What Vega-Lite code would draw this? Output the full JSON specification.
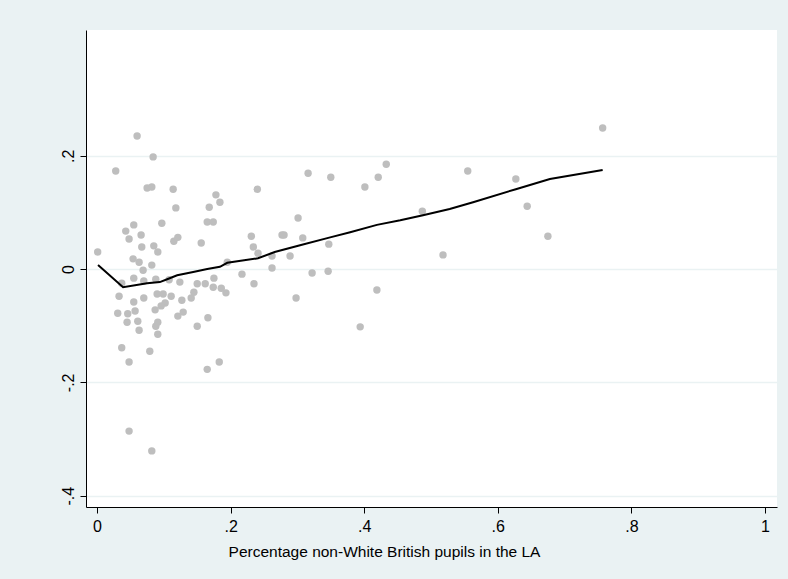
{
  "$schema": "https://vega.github.io/schema/vega-lite/v6.json",
  "autosize": "none",
  "width": 691,
  "height": 477,
  "padding": {"left": 86, "top": 30, "right": 11, "bottom": 72},
  "background": "#eaf2f3",
  "view": {"fill": "white", "stroke": null},
  "config": {
    "font": "Liberation Sans",
    "axis": {"labelFont": "Liberation Sans", "titleFont": "Liberation Sans", "labelColor": "black", "titleColor": "black", "domainColor": "black", "tickColor": "black"}
  },
  "datasets": {
    "scatter": [
      {"x": 0.001, "y": 0.030}, {"x": 0.028, "y": 0.173}, {"x": 0.060, "y": 0.235}, {"x": 0.084, "y": 0.198},
      {"x": 0.075, "y": 0.143}, {"x": 0.082, "y": 0.145}, {"x": 0.114, "y": 0.141}, {"x": 0.118, "y": 0.108},
      {"x": 0.097, "y": 0.081}, {"x": 0.055, "y": 0.078}, {"x": 0.043, "y": 0.067}, {"x": 0.066, "y": 0.060},
      {"x": 0.168, "y": 0.109}, {"x": 0.178, "y": 0.131}, {"x": 0.184, "y": 0.118}, {"x": 0.165, "y": 0.083},
      {"x": 0.174, "y": 0.083}, {"x": 0.240, "y": 0.141}, {"x": 0.231, "y": 0.058}, {"x": 0.048, "y": 0.053},
      {"x": 0.067, "y": 0.039}, {"x": 0.085, "y": 0.041}, {"x": 0.091, "y": 0.030}, {"x": 0.054, "y": 0.018},
      {"x": 0.063, "y": 0.012}, {"x": 0.069, "y": -0.002}, {"x": 0.082, "y": 0.007}, {"x": 0.115, "y": 0.049},
      {"x": 0.121, "y": 0.056}, {"x": 0.156, "y": 0.046}, {"x": 0.234, "y": 0.039}, {"x": 0.241, "y": 0.028},
      {"x": 0.195, "y": 0.012}, {"x": 0.217, "y": -0.009}, {"x": 0.235, "y": -0.026}, {"x": 0.055, "y": -0.016},
      {"x": 0.037, "y": -0.025}, {"x": 0.033, "y": -0.048}, {"x": 0.070, "y": -0.021}, {"x": 0.088, "y": -0.018},
      {"x": 0.108, "y": -0.019}, {"x": 0.124, "y": -0.023}, {"x": 0.150, "y": -0.026}, {"x": 0.162, "y": -0.026},
      {"x": 0.174, "y": -0.032}, {"x": 0.175, "y": -0.016}, {"x": 0.186, "y": -0.034}, {"x": 0.193, "y": -0.042},
      {"x": 0.055, "y": -0.058}, {"x": 0.070, "y": -0.051}, {"x": 0.090, "y": -0.044}, {"x": 0.099, "y": -0.044},
      {"x": 0.111, "y": -0.048}, {"x": 0.102, "y": -0.060}, {"x": 0.096, "y": -0.065}, {"x": 0.087, "y": -0.072},
      {"x": 0.127, "y": -0.055}, {"x": 0.141, "y": -0.051}, {"x": 0.145, "y": -0.041}, {"x": 0.031, "y": -0.078},
      {"x": 0.046, "y": -0.079}, {"x": 0.057, "y": -0.074}, {"x": 0.045, "y": -0.094}, {"x": 0.061, "y": -0.092},
      {"x": 0.063, "y": -0.108}, {"x": 0.091, "y": -0.094}, {"x": 0.088, "y": -0.101}, {"x": 0.091, "y": -0.115},
      {"x": 0.121, "y": -0.083}, {"x": 0.129, "y": -0.076}, {"x": 0.166, "y": -0.086}, {"x": 0.150, "y": -0.101},
      {"x": 0.037, "y": -0.139}, {"x": 0.079, "y": -0.145}, {"x": 0.048, "y": -0.164}, {"x": 0.165, "y": -0.177},
      {"x": 0.183, "y": -0.164}, {"x": 0.048, "y": -0.286}, {"x": 0.082, "y": -0.321}, {"x": 0.316, "y": 0.169},
      {"x": 0.350, "y": 0.162}, {"x": 0.401, "y": 0.145}, {"x": 0.421, "y": 0.162}, {"x": 0.433, "y": 0.185},
      {"x": 0.487, "y": 0.102}, {"x": 0.277, "y": 0.060}, {"x": 0.280, "y": 0.060}, {"x": 0.308, "y": 0.055},
      {"x": 0.301, "y": 0.090}, {"x": 0.347, "y": 0.044}, {"x": 0.262, "y": 0.002}, {"x": 0.322, "y": -0.007},
      {"x": 0.346, "y": -0.004}, {"x": 0.298, "y": -0.051}, {"x": 0.419, "y": -0.037}, {"x": 0.518, "y": 0.025},
      {"x": 0.555, "y": 0.173}, {"x": 0.627, "y": 0.159}, {"x": 0.644, "y": 0.111}, {"x": 0.675, "y": 0.058},
      {"x": 0.757, "y": 0.249}, {"x": 0.394, "y": -0.102}, {"x": 0.262, "y": 0.023}, {"x": 0.289, "y": 0.023}
    ],
    "lowess": [
      {"x": 0.0015, "y": 0.007}, {"x": 0.039, "y": -0.032}, {"x": 0.075, "y": -0.025}, {"x": 0.094, "y": -0.023},
      {"x": 0.105, "y": -0.018}, {"x": 0.12, "y": -0.011}, {"x": 0.144, "y": -0.005}, {"x": 0.165, "y": 0.0},
      {"x": 0.184, "y": 0.004}, {"x": 0.195, "y": 0.011}, {"x": 0.241, "y": 0.019}, {"x": 0.266, "y": 0.030},
      {"x": 0.304, "y": 0.042}, {"x": 0.349, "y": 0.056}, {"x": 0.379, "y": 0.065}, {"x": 0.419, "y": 0.078},
      {"x": 0.454, "y": 0.086}, {"x": 0.488, "y": 0.095}, {"x": 0.528, "y": 0.106}, {"x": 0.563, "y": 0.118},
      {"x": 0.627, "y": 0.141}, {"x": 0.678, "y": 0.159}, {"x": 0.757, "y": 0.175}
    ]
  },
  "layer": [
    {
      "data": {"name": "scatter"},
      "mark": {"type": "point", "filled": true, "color": "#bebebe", "opacity": 1, "size": 55},
      "encoding": {
        "x": {"field": "x", "type": "quantitative",
          "scale": {"domain": [-0.0165, 1.018], "nice": false, "zero": false},
          "axis": {"values": [0, 0.2, 0.4, 0.6, 0.8, 1], "grid": false,
            "labelExpr": "datum.value === 0 ? '0' : datum.value === 1 ? '1' : (datum.value < 0 ? '-.' : '.') + round(abs(datum.value) * 10)",
            "labelFontSize": 16, "labelPadding": 5, "tickSize": 6, "domainWidth": 1,
            "title": "Percentage non-White British pupils in the LA", "titleFontSize": 15.5, "titleFontWeight": "normal",
            "titleX": 298, "titleY": 49, "titleAlign": "center", "titleBaseline": "alphabetic", "titleAnchor": null}},
        "y": {"field": "y", "type": "quantitative",
          "scale": {"domain": [-0.42, 0.422], "nice": false, "zero": false},
          "axis": {"values": [-0.4, -0.2, 0, 0.2], "grid": true, "gridColor": "#eaf2f3", "gridWidth": 1.5,
            "labelExpr": "datum.value === 0 ? '0' : (datum.value < 0 ? '-.' : '.') + round(abs(datum.value) * 10)",
            "labelAngle": 270, "labelAlign": "center", "labelBaseline": "bottom",
            "labelFontSize": 16, "labelPadding": 4, "tickSize": 6, "domainWidth": 1, "title": null}}
      }
    },
    {
      "data": {"name": "lowess"},
      "mark": {"type": "line", "color": "black", "strokeWidth": 2},
      "encoding": {
        "x": {"field": "x", "type": "quantitative"},
        "y": {"field": "y", "type": "quantitative"}
      }
    }
  ]
}
